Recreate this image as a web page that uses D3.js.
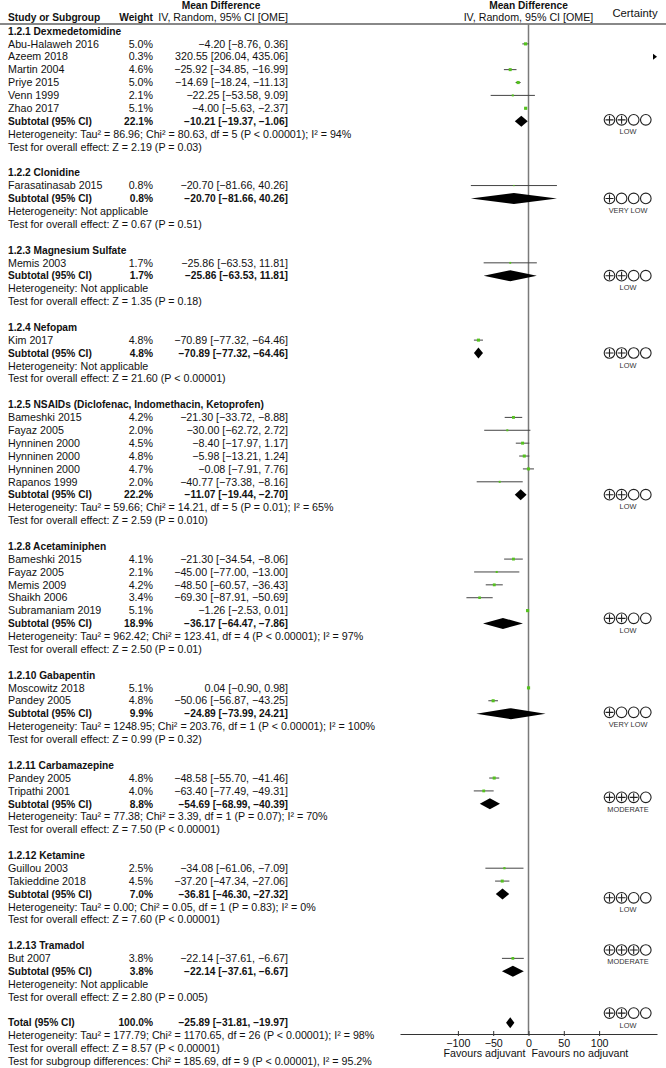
<!DOCTYPE html>
<html>
<head>
<meta charset="utf-8">
<script src="https://cdn.jsdelivr.net/npm/d3@7"></script>
<style>
  html, body { margin: 0; padding: 0; background: #fff; }
  svg { display: block; }
  text { font-family: "Liberation Sans", Arial, sans-serif; fill: #111; }
</style>
</head>
<body>
<div id="chart"></div>
<script>
// ---------------- DATA ----------------
const groupNames = [
  "1.2.1 Dexmedetomidine", "1.2.2 Clonidine", "1.2.3 Magnesium Sulfate", "1.2.4 Nefopam",
  "1.2.5 NSAIDs (Diclofenac, Indomethacin, Ketoprofen)", "1.2.8 Acetaminiphen",
  "1.2.10 Gabapentin", "1.2.11 Carbamazepine", "1.2.12 Ketamine", "1.2.13 Tramadol"
];
const studyNames = [
  "Abu-Halaweh 2016", "Azeem 2018", "Martin 2004", "Priye 2015", "Venn 1999", "Zhao 2017",
  "Farasatinasab 2015",
  "Memis 2003",
  "Kim 2017",
  "Bameshki 2015", "Fayaz 2005", "Hynninen 2000", "Hynninen 2000", "Hynninen 2000", "Rapanos 1999",
  "Bameshki 2015", "Fayaz 2005", "Memis 2009", "Shaikh 2006", "Subramaniam 2019",
  "Moscowitz 2018", "Pandey 2005",
  "Pandey 2005", "Tripathi 2001",
  "Guillou 2003", "Takieddine 2018",
  "But 2007"
];
const studyGroup  = [0,0,0,0,0,0, 1, 2, 3, 4,4,4,4,4,4, 5,5,5,5,5, 6,6, 7,7, 8,8, 9];
const studyWeight = [5.0,0.3,4.6,5.0,2.1,5.1, 0.8, 1.7, 4.8, 4.2,2.0,4.5,4.8,4.7,2.0, 4.1,2.1,4.2,3.4,5.1, 5.1,4.8, 4.8,4.0, 2.5,4.5, 3.8];
const studyMD = [-4.20,320.55,-25.92,-14.69,-22.25,-4.00, -20.70, -25.86, -70.89,
  -21.30,-30.00,-8.40,-5.98,-0.08,-40.77, -21.30,-45.00,-48.50,-69.30,-1.26,
  0.04,-50.06, -48.58,-63.40, -34.08,-37.20, -22.14];
const studyLo = [-8.76,206.04,-34.85,-18.24,-53.58,-5.63, -81.66, -63.53, -77.32,
  -33.72,-62.72,-17.97,-13.21,-7.91,-73.38, -34.54,-77.00,-60.57,-87.91,-2.53,
  -0.90,-56.87, -55.70,-77.49, -61.06,-47.34, -37.61];
const studyHi = [0.36,435.06,-16.99,-11.13,9.09,-2.37, 40.26, 11.81, -64.46,
  -8.88,2.72,1.17,1.24,7.76,-8.16, -8.06,-13.00,-36.43,-50.69,0.01,
  0.98,-43.25, -41.46,-49.31, -7.09,-27.06, -6.67];

const groupWeight = [22.1,0.8,1.7,4.8,22.2,18.9,9.9,8.8,7.0,3.8];
const groupMD = [-10.21,-20.70,-25.86,-70.89,-11.07,-36.17,-24.89,-54.69,-36.81,-22.14];
const groupLo = [-19.37,-81.66,-63.53,-77.32,-19.44,-64.47,-73.99,-68.99,-46.30,-37.61];
const groupHi = [-1.06,40.26,11.81,-64.46,-2.70,-7.86,24.21,-40.39,-27.32,-6.67];
const groupHet = [
  "Heterogeneity: Tau² = 86.96; Chi² = 80.63, df = 5 (P < 0.00001); I² = 94%",
  "Heterogeneity: Not applicable",
  "Heterogeneity: Not applicable",
  "Heterogeneity: Not applicable",
  "Heterogeneity: Tau² = 59.66; Chi² = 14.21, df = 5 (P = 0.01); I² = 65%",
  "Heterogeneity: Tau² = 962.42; Chi² = 123.41, df = 4 (P < 0.00001); I² = 97%",
  "Heterogeneity: Tau² = 1248.95; Chi² = 203.76, df = 1 (P < 0.00001); I² = 100%",
  "Heterogeneity: Tau² = 77.38; Chi² = 3.39, df = 1 (P = 0.07); I² = 70%",
  "Heterogeneity: Tau² = 0.00; Chi² = 0.05, df = 1 (P = 0.83); I² = 0%",
  "Heterogeneity: Not applicable"
];
const groupTest = [
  "Test for overall effect: Z = 2.19 (P = 0.03)",
  "Test for overall effect: Z = 0.67 (P = 0.51)",
  "Test for overall effect: Z = 1.35 (P = 0.18)",
  "Test for overall effect: Z = 21.60 (P < 0.00001)",
  "Test for overall effect: Z = 2.59 (P = 0.010)",
  "Test for overall effect: Z = 2.50 (P = 0.01)",
  "Test for overall effect: Z = 0.99 (P = 0.32)",
  "Test for overall effect: Z = 7.50 (P < 0.00001)",
  "Test for overall effect: Z = 7.60 (P < 0.00001)",
  "Test for overall effect: Z = 2.80 (P = 0.005)"
];
const groupCertainty = [2,1,2,2,2,2,1,3,2,3];
const certaintyLabels = ["", "VERY LOW", "LOW", "MODERATE", "HIGH"];

const totalWeight = 100.0, totalMD = -25.89, totalLo = -31.81, totalHi = -19.97, totalCertainty = 2;
const totalLines = [
  "Heterogeneity: Tau² = 177.79; Chi² = 1170.65, df = 26 (P < 0.00001); I² = 98%",
  "Test for overall effect: Z = 8.57 (P < 0.00001)",
  "Test for subgroup differences: Chi² = 185.69, df = 9 (P < 0.00001), I² = 95.2%"
];
const axisTicks = [-100, -50, 0, 50, 100];
const axisDomain = [-182, 182];
const favoursLeft = "Favours adjuvant", favoursRight = "Favours no adjuvant";

// ---------------- LAYOUT ----------------
const W = 666, H = 1068;
const row0 = 31, rowH = 12.88;
const xName = 8, xWeight = 153, xCI = 288;
const fs = 10.7, fsb = 10.2;
const certShift = [-0.1,0,0,0,0,-0.4,-0.1,-0.5,0.3,-1.65];
const totalCertShift = -0.75;

const svg = d3.select("#chart").append("svg").attr("width", W).attr("height", H);
const x = d3.scaleLinear().domain(axisDomain).range([400, 657]);
const fmt = d3.format(".2f");
const fmtW = v => d3.format(".1f")(v) + "%";
const ciText = (m, l, h) => `${fmt(m)} [${fmt(l)}, ${fmt(h)}]`;

// Build rows
const rows = [];
let idx = 0;
groupNames.forEach((g, gi) => {
  rows.push({type: "title", i: idx++, text: g});
  studyNames.forEach((s, si) => {
    if (studyGroup[si] === gi) rows.push({type: "study", i: idx++, si});
  });
  rows.push({type: "sub", i: idx++, gi});
  rows.push({type: "text", i: idx++, text: groupHet[gi]});
  rows.push({type: "text", i: idx++, text: groupTest[gi]});
  idx++;
});
rows.push({type: "total", i: idx++});
totalLines.forEach(t => rows.push({type: "text", i: idx++, text: t}));

const yc = i => row0 + i * rowH;
const base = i => yc(i) + 3.7;

// Header
svg.append("text").attr("x", 221).attr("y", 9).attr("text-anchor", "middle")
  .attr("font-weight", "bold").attr("font-size", fsb).text("Mean Difference");
svg.append("text").attr("x", xName).attr("y", 20.5).attr("font-weight", "bold").attr("font-size", fsb).text("Study or Subgroup");
svg.append("text").attr("x", xWeight).attr("y", 20.5).attr("text-anchor", "end").attr("font-weight", "bold").attr("font-size", fsb).text("Weight");
svg.append("text").attr("x", xCI).attr("y", 20.5).attr("text-anchor", "end").attr("font-size", fs).text("IV, Random, 95% CI [OME]");
svg.append("text").attr("x", x(0)).attr("y", 9).attr("text-anchor", "middle")
  .attr("font-weight", "bold").attr("font-size", fsb).text("Mean Difference");
svg.append("text").attr("x", x(0)).attr("y", 20.5).attr("text-anchor", "middle").attr("font-size", fs).text("IV, Random, 95% CI [OME]");
svg.append("text").attr("x", 635).attr("y", 16.5).attr("text-anchor", "middle").attr("font-size", fs + 0.6).text("Certainty");

svg.append("line").attr("x1", 0).attr("x2", W).attr("y1", 24).attr("y2", 24)
  .attr("stroke", "#888").attr("stroke-width", 1.8);

const axisY = 1034;
// zero line
svg.append("line").attr("x1", x(0)).attr("x2", x(0)).attr("y1", 24).attr("y2", axisY)
  .attr("stroke", "#7a7a7a").attr("stroke-width", 1.5);

// Text rows
const T = svg.append("g");
rows.forEach(r => {
  const y = base(r.i);
  if (r.type === "title") {
    T.append("text").attr("x", xName).attr("y", y).attr("font-weight", "bold").attr("font-size", fsb).text(r.text);
  } else if (r.type === "study") {
    const s = r.si;
    T.append("text").attr("x", xName).attr("y", y).attr("font-size", fs).text(studyNames[s]);
    T.append("text").attr("x", xWeight).attr("y", y).attr("text-anchor", "end").attr("font-size", fs).text(fmtW(studyWeight[s]));
    T.append("text").attr("x", xCI).attr("y", y).attr("text-anchor", "end").attr("font-size", fs).text(ciText(studyMD[s], studyLo[s], studyHi[s]));
  } else if (r.type === "sub" || r.type === "total") {
    const g = r.gi;
    const w = r.type === "sub" ? groupWeight[g] : totalWeight;
    const m = r.type === "sub" ? groupMD[g] : totalMD;
    const l = r.type === "sub" ? groupLo[g] : totalLo;
    const h = r.type === "sub" ? groupHi[g] : totalHi;
    T.append("text").attr("x", xName).attr("y", y).attr("font-weight", "bold").attr("font-size", fsb)
      .text(r.type === "sub" ? "Subtotal (95% CI)" : "Total (95% CI)");
    T.append("text").attr("x", xWeight).attr("y", y).attr("text-anchor", "end").attr("font-weight", "bold").attr("font-size", fsb).text(fmtW(w));
    T.append("text").attr("x", xCI).attr("y", y).attr("text-anchor", "end").attr("font-weight", "bold").attr("font-size", fsb).text(ciText(m, l, h));
  } else {
    T.append("text").attr("x", xName).attr("y", y).attr("font-size", fs).text(r.text);
  }
});

// Plot marks
const P = svg.append("g");
const [dMin, dMax] = axisDomain;
rows.filter(r => r.type === "study").forEach(r => {
  const s = r.si, y = yc(r.i);
  const lo = Math.max(studyLo[s], dMin), hi = Math.min(studyHi[s], dMax);
  if (lo < hi) {
    P.append("line").attr("x1", x(lo)).attr("x2", x(hi)).attr("y1", y).attr("y2", y)
      .attr("stroke", "#444").attr("stroke-width", 1);
  }
  if (studyMD[s] > dMax || studyLo[s] > dMax) {
    const xe = x(dMax);
    P.append("path").attr("d", `M${xe - 4},${y - 3}L${xe},${y}L${xe - 4},${y + 3}Z`).attr("fill", "#000");
  } else {
    const sz = 1.4 * Math.sqrt(studyWeight[s]);
    P.append("rect").attr("x", x(studyMD[s]) - sz / 2).attr("y", y - sz / 2)
      .attr("width", sz).attr("height", sz).attr("fill", "#55c21f");
  }
});
function diamond(m, l, h, y) {
  P.append("path").attr("d", `M${x(l)},${y}L${x(m)},${y - 5.5}L${x(h)},${y}L${x(m)},${y + 5.5}Z`).attr("fill", "#000");
}
rows.filter(r => r.type === "sub").forEach(r => diamond(groupMD[r.gi], groupLo[r.gi], groupHi[r.gi], yc(r.i)));
const totalRow = rows.find(r => r.type === "total");
diamond(totalMD, totalLo, totalHi, yc(totalRow.i));

// Certainty
function certainty(level, cy) {
  const g = svg.append("g");
  for (let k = 0; k < 4; k++) {
    const cx = 609.5 + k * 12.1;
    g.append("circle").attr("cx", cx).attr("cy", cy).attr("r", 5.3)
      .attr("fill", "none").attr("stroke", "#222").attr("stroke-width", 1.1);
    if (k < level) {
      g.append("path").attr("d", `M${cx - 4},${cy}H${cx + 4}M${cx},${cy - 4}V${cy + 4}`)
        .attr("stroke", "#222").attr("stroke-width", 1.1);
    }
  }
  g.append("text").attr("x", 628).attr("y", cy + 14.5).attr("text-anchor", "middle")
    .attr("font-size", 7.4).style("fill", "#333").text(certaintyLabels[level]);
}
rows.filter(r => r.type === "sub").forEach(r => certainty(groupCertainty[r.gi], yc(r.i + certShift[r.gi])));
certainty(totalCertainty, yc(totalRow.i + totalCertShift));

// Axis
const axis = d3.axisBottom(x).tickValues(axisTicks).tickSize(2).tickSizeOuter(0).tickPadding(3);
const ag = svg.append("g").attr("transform", `translate(0,${axisY})`).call(axis);
ag.select(".domain").attr("stroke", "#333").attr("stroke-width", 1.2);
ag.selectAll(".tick line").attr("y1", -3).attr("y2", 2).attr("stroke", "#333");
ag.selectAll(".tick text").attr("font-size", fs).attr("font-family", "Liberation Sans, Arial, sans-serif").style("fill", "#111");

svg.append("text").attr("x", x(0) - 3).attr("y", 1057).attr("text-anchor", "end").attr("font-size", fs).text(favoursLeft);
svg.append("text").attr("x", x(0) + 3).attr("y", 1057).attr("text-anchor", "start").attr("font-size", fs).text(favoursRight);
</script>
</body>
</html>
